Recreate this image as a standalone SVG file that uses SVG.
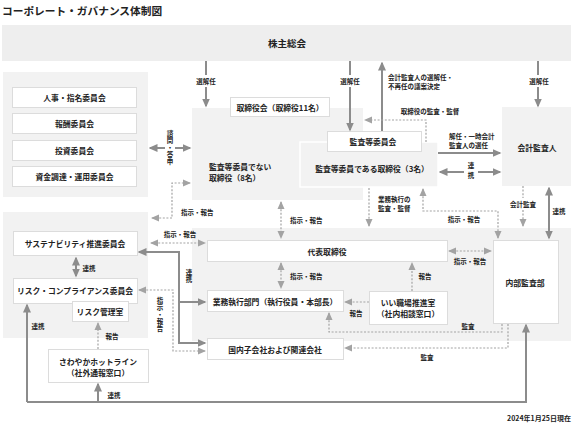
<svg xmlns="http://www.w3.org/2000/svg" width="573" height="423" viewBox="0 0 573 423">
<defs>
<style>
text{font-family:"Noto Sans CJK JP","Noto Sans CJK SC",sans-serif;font-weight:700;fill:#222;dominant-baseline:central}
.c{text-anchor:middle}
.b{font-size:7.8px}
.s{font-size:6.5px}
.v{writing-mode:vertical-rl;text-anchor:middle;letter-spacing:0.5px}
.panel{fill:#f2f2f2}
.box{fill:#fff;stroke:#dcdcdc;stroke-width:1}
.gbox{fill:#f2f2f2;stroke:#fff;stroke-width:1.5}
.sol{fill:none;stroke:#8c8c8c;stroke-width:2}
.dsh{fill:none;stroke:#a3a3a3;stroke-width:1.2;stroke-dasharray:2 1.6}
</style>
<marker id="as" markerUnits="userSpaceOnUse" markerWidth="9" markerHeight="9" viewBox="0 0 9 9" refX="7.5" refY="4.5" orient="auto-start-reverse"><path d="M0,0.5 L9,4.5 L0,8.5z" fill="#8c8c8c"/></marker>
<marker id="ad" markerUnits="userSpaceOnUse" markerWidth="8" markerHeight="8" viewBox="0 0 8 8" refX="7" refY="4" orient="auto-start-reverse"><path d="M0,0.5 L8,4 L0,7.5z" fill="#a3a3a3"/></marker>
</defs>
<rect width="573" height="423" fill="#fff"/>

<g id="title"><text x="2" y="10" style="font-size:10.7px">コーポレート・ガバナンス体制図</text></g>

<g id="shareholders"><rect x="2" y="25" width="569" height="36" fill="#eeeeee"/><text class="c" x="287" y="43" style="font-size:9.5px">株主総会</text></g>

<g id="committees">
<rect class="panel" x="3" y="72" width="145" height="125"/>
<g id="nomination"><rect class="box" x="12.5" y="87.5" width="124" height="20"/><text class="c b" x="74.5" y="97.5">人事・指名委員会</text></g>
<g id="compensation"><rect class="box" x="12.5" y="113.5" width="124" height="20"/><text class="c b" x="74.5" y="123.5">報酬委員会</text></g>
<g id="investment"><rect class="box" x="12.5" y="140.5" width="124" height="20"/><text class="c b" x="74.5" y="150.5">投資委員会</text></g>
<g id="funding"><rect class="box" x="12.5" y="166.5" width="124" height="20"/><text class="c b" x="74.5" y="176.5">資金調達・運用委員会</text></g>
</g>

<g id="board">
<rect class="panel" x="192" y="108" width="171" height="92"/>
<rect class="box" x="230.5" y="97.5" width="99" height="19"/><text class="c b" x="280" y="107">取締役会（取締役11名）</text>
<text class="b" x="209" y="166.5">監査等委員でない</text>
<text class="b" x="209" y="177.5">取締役（8名）</text>
</g>

<g id="audit-directors"><rect class="gbox" x="300" y="142" width="138" height="45"/><text class="c b" x="372" y="168">監査等委員である取締役（3名）</text></g>
<g id="audit-committee"><rect class="box" x="327.5" y="131.5" width="94" height="20"/><text class="c b" x="373" y="141.5">監査等委員会</text></g>
<g id="accounting-auditor"><rect class="panel" x="502" y="107" width="69" height="79"/><text class="c b" x="537" y="147">会計監査人</text></g>

<g id="exec-area"><rect class="panel" x="192" y="228" width="379" height="113"/></g>
<g id="president"><rect class="box" x="207.5" y="240.5" width="240" height="21"/><text class="c b" x="327" y="251">代表取締役</text></g>
<g id="business"><rect class="box" x="207.5" y="290.5" width="136" height="21"/><text class="c b" x="275" y="301">業務執行部門（執行役員・本部長）</text></g>
<g id="good-workplace"><rect class="box" x="369.5" y="291.5" width="78" height="33"/><text class="c b" x="408" y="302.5">いい職場推進室</text><text class="c b" x="408" y="313.5">（社内相談窓口）</text></g>
<g id="internal-audit"><rect class="box" x="493.5" y="240.5" width="65" height="83"/><text class="c b" x="525" y="282">内部監査部</text></g>
<g id="subsidiaries"><rect class="box" x="207.5" y="338.5" width="136" height="21"/><text class="c b" x="275" y="349">国内子会社および関連会社</text></g>

<g id="risk-area"><rect class="panel" x="3" y="212" width="145" height="126"/></g>
<g id="sustainability"><rect class="box" x="13.5" y="231.5" width="124" height="24"/><text class="c b" x="75" y="243">サステナビリティ推進委員会</text></g>
<g id="risk-compliance"><rect class="box" x="13.5" y="278.5" width="124" height="25"/><text class="c b" x="75" y="290">リスク・コンプライアンス委員会</text></g>
<g id="risk-office"><rect class="box" x="72.5" y="301.5" width="56" height="20"/><text class="c b" x="100" y="311">リスク管理室</text></g>
<g id="hotline"><rect class="box" x="48.5" y="349.5" width="100" height="33"/><text class="c b" x="98" y="361">さわやかホットライン</text><text class="c b" x="98" y="372">（社外通報窓口）</text></g>

<g id="connectors">
<path class="sol" d="M206 61V75"/><path class="sol" d="M206 87V106" marker-end="url(#as)"/>
<path class="sol" d="M350 61V75"/><path class="sol" d="M350 87V130" marker-end="url(#as)"/>
<path class="sol" d="M538 61V75"/><path class="sol" d="M538 87V106" marker-end="url(#as)"/>
<path class="sol" d="M382 131V63" marker-end="url(#as)"/>
<path class="sol" d="M438 153H500" marker-end="url(#as)"/>
<path class="sol" d="M440 172H464" marker-start="url(#as)"/><path class="sol" d="M478 172H500" marker-end="url(#as)"/>
<path class="sol" d="M549 188V238" marker-start="url(#as)" marker-end="url(#as)"/>
<path class="sol" d="M150 148H165" marker-start="url(#as)"/><path class="sol" d="M175 148H190" marker-end="url(#as)"/>
<path class="sol" d="M179 252H139" marker-end="url(#as)"/>
<path class="sol" d="M179 251V343H205" marker-end="url(#as)"/>
<path class="sol" d="M179 302H205" marker-end="url(#as)"/>
<path class="sol" d="M76 258V276" marker-start="url(#as)" marker-end="url(#as)"/>
<path class="sol" d="M27 402V305" marker-end="url(#as)"/>
<path class="sol" d="M27 402H526V325" marker-end="url(#as)"/>
<path class="sol" d="M98 402V384" marker-end="url(#as)"/>

<path class="dsh" d="M426 142V120H365" marker-end="url(#ad)"/>
<path class="dsh" d="M152 218H172V183H190" marker-start="url(#ad)" marker-end="url(#ad)"/>
<path class="dsh" d="M151 243H205" marker-start="url(#ad)" marker-end="url(#ad)"/>
<path class="dsh" d="M281 202V238" marker-start="url(#ad)" marker-end="url(#ad)"/>
<path class="dsh" d="M281 263V288" marker-start="url(#ad)" marker-end="url(#ad)"/>
<path class="dsh" d="M369 188V226" marker-end="url(#ad)"/>
<path class="dsh" d="M423 189V211H498V238" marker-start="url(#ad)" marker-end="url(#ad)"/>
<path class="dsh" d="M523 186V198"/><path class="dsh" d="M523 210V226" marker-end="url(#ad)"/>
<path class="dsh" d="M449 251H491" marker-start="url(#ad)" marker-end="url(#ad)"/>
<path class="dsh" d="M412 291V263" marker-end="url(#ad)"/>
<path class="dsh" d="M369 302H345" marker-end="url(#ad)"/>
<path class="dsh" d="M502 324V332H329V313" marker-end="url(#ad)"/>
<path class="dsh" d="M508 324V348H345" marker-end="url(#ad)"/>
<path class="dsh" d="M139 290H173V351H205" marker-start="url(#ad)" marker-end="url(#ad)"/>
<path class="dsh" d="M98 349V323" marker-end="url(#ad)"/>
</g>

<g id="labels">
<text class="c s" x="206" y="81">選解任</text>
<text class="c s" x="350" y="81">選解任</text>
<text class="c s" x="539" y="81">選解任</text>
<text class="s" x="388" y="77">会計監査人の選解任・</text>
<text class="s" x="388" y="86">不再任の議案決定</text>
<text class="c s" x="430" y="111">取締役の監査・監督</text>
<text class="s" x="449" y="136">解任・一時会計</text>
<text class="s" x="449" y="145">監査人の選任</text>
<text class="s v" x="471" y="172" style="letter-spacing:3px">連携</text>
<text class="c s" x="559" y="211">連携</text>
<text class="c s" x="523" y="204">会計監査</text>
<text class="s v" x="170" y="148">諮問・答申</text>
<text class="s" x="181" y="212">指示・報告</text>
<text class="c s" x="180" y="234">指示・報告</text>
<text class="s" x="290" y="220">指示・報告</text>
<text class="s" x="378" y="199">業務執行の</text>
<text class="s" x="378" y="208">監査・監督</text>
<text class="c s" x="464" y="219">指示・報告</text>
<text class="s" x="290" y="276">指示・報告</text>
<text class="c s" x="470" y="261">指示・報告</text>
<text class="c s" x="425" y="276">報告</text>
<text class="c s" x="356" y="312.5">報告</text>
<text class="c s" x="468" y="326">監査</text>
<text class="c s" x="427" y="357">監査</text>
<text class="s v" x="189" y="276">連携</text>
<text class="s v" x="160" y="315">指示・報告</text>
<text class="c s" x="89" y="268">連携</text>
<text class="c s" x="38" y="326">連携</text>
<text class="c s" x="112" y="336">報告</text>
<text class="c s" x="114" y="395">連携</text>
<text x="571" y="418" style="font-size:7px;text-anchor:end">2024年1月25日現在</text>
</g>
</svg>
